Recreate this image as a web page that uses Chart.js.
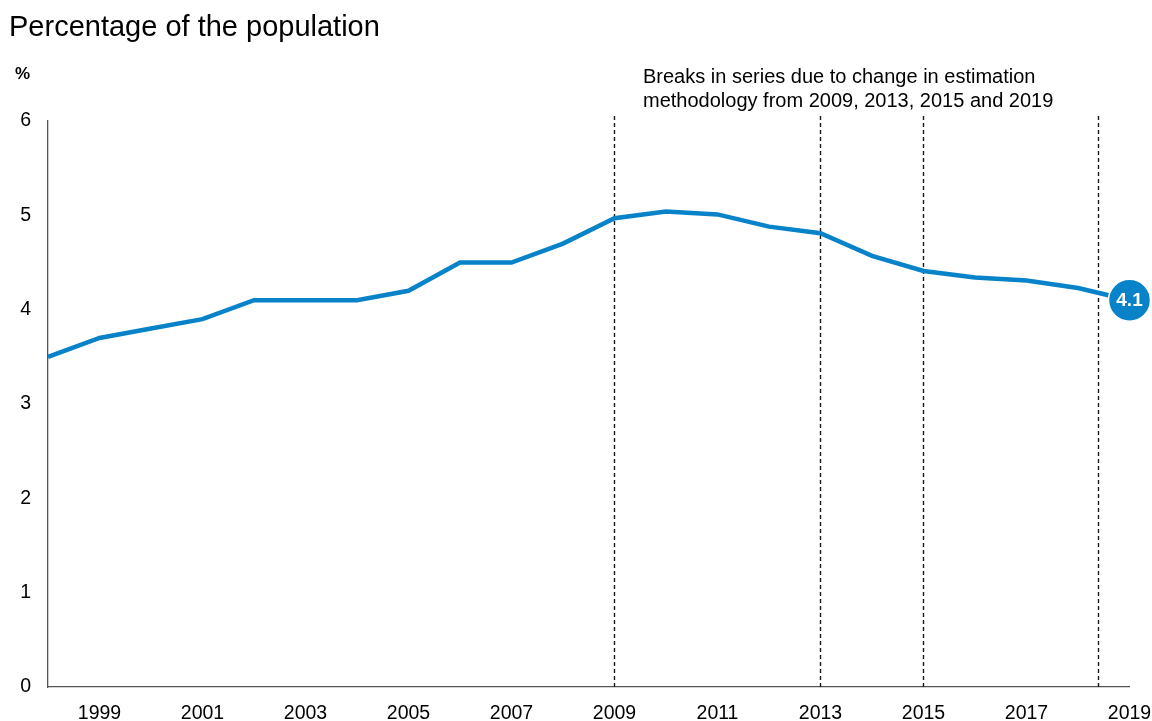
<!DOCTYPE html>
<html>
<head>
<meta charset="utf-8">
<script src="https://cdn.jsdelivr.net/npm/chart.js@4"></script>
<style>
  html, body { margin: 0; padding: 0; background: #fff; }
  #wrap { position: relative; width: 1152px; height: 721px; }
</style>
</head>
<body>
<div id="wrap"><canvas id="chart" width="1152" height="721"></canvas></div>
<script>
const years = [1998, 1999, 2000, 2001, 2002, 2003, 2004, 2005, 2006, 2007, 2008,
  2009, 2010, 2011, 2012, 2013, 2014, 2015, 2016, 2017, 2018, 2019];
const values = [3.5, 3.7, 3.8, 3.9, 4.1, 4.1, 4.1, 4.2, 4.5, 4.5, 4.7,
  4.97, 5.04, 5.01, 4.88, 4.81, 4.57, 4.41, 4.34, 4.31, 4.23, 4.1];
const xTickYears = [1999, 2001, 2003, 2005, 2007, 2009, 2011, 2013, 2015, 2017, 2019];
const yTicks = [0, 1, 2, 3, 4, 5, 6];
const breakYears = [2009, 2013, 2015, 2018.4];

const blue = '#0882c8';
const font = '"Liberation Sans", Arial, sans-serif';

// dashed break lines, the texts and the end label
const extras = {
  id: 'extras',
  beforeDatasetsDraw(chart) {
    const { ctx, chartArea, scales } = chart;
    ctx.save();
    ctx.strokeStyle = '#1a1a1a';
    ctx.lineWidth = 1.4;
    ctx.setLineDash([4, 3]);
    breakYears.forEach(y => {
      const x = Math.round(scales.x.getPixelForValue(y)) - 0.5;
      ctx.beginPath();
      ctx.moveTo(x, chartArea.top - 5);
      ctx.lineTo(x, chartArea.bottom);
      ctx.stroke();
    });
    ctx.restore();
  },
  afterDatasetsDraw(chart) {
    const { ctx } = chart;
    const meta = chart.getDatasetMeta(0);
    const last = meta.data[meta.data.length - 1];
    ctx.save();
    ctx.fillStyle = '#fff';
    ctx.font = 'bold 19px ' + font;
    ctx.textAlign = 'center';
    ctx.textBaseline = 'middle';
    ctx.fillText(values[values.length - 1].toFixed(1), last.x, last.y + 1);

    ctx.fillStyle = '#000';
    ctx.textAlign = 'left';
    ctx.textBaseline = 'alphabetic';
    ctx.font = '29px ' + font;
    ctx.fillText('Percentage of the population', 9, 36);
    ctx.font = 'bold 17px ' + font;
    ctx.fillText('%', 15, 79);
    ctx.font = '20px ' + font;
    ctx.fillText('Breaks in series due to change in estimation', 643, 83);
    ctx.fillText('methodology from 2009, 2013, 2015 and 2019', 643, 107);
    ctx.restore();
  }
};

new Chart(document.getElementById('chart'), {
  type: 'line',
  data: {
    datasets: [{
      data: years.map((y, i) => ({ x: y, y: values[i] })),
      borderColor: blue,
      borderWidth: 4.5,
      tension: 0,
      clip: false,
      pointRadius: ctx => ctx.dataIndex === values.length - 1 ? 21 : 0,
      pointBackgroundColor: blue,
      pointBorderColor: '#fff',
      pointBorderWidth: 1.5,
      pointHoverRadius: ctx => ctx.dataIndex === values.length - 1 ? 21 : 0
    }]
  },
  options: {
    responsive: false,
    animation: false,
    events: [],
    layout: { padding: { top: 121, left: 0, right: 22, bottom: 0 } },
    plugins: { legend: { display: false }, tooltip: { enabled: false } },
    scales: {
      x: {
        type: 'linear',
        min: 1998,
        max: 2019,
        afterBuildTicks: axis => { axis.ticks = xTickYears.map(v => ({ value: v })); },
        afterFit: axis => {
          axis.height = 34;
          axis.paddingLeft = 0;
          axis.paddingRight = 0;
        },
        grid: { display: false, drawTicks: false },
        border: { display: true, color: '#555', width: 1.3 },
        ticks: {
          autoSkip: false,
          maxRotation: 0,
          padding: 15,
          color: '#000',
          font: { family: font, size: 19.5 },
          callback: v => String(v)
        }
      },
      y: {
        min: 0,
        max: 6,
        afterBuildTicks: axis => { axis.ticks = yTicks.map(v => ({ value: v })); },
        afterFit: axis => {
          axis.width = 48;
          axis.paddingTop = 0;
          axis.paddingBottom = 0;
        },
        grid: { display: false, drawTicks: false },
        border: { display: true, color: '#555', width: 1.3 },
        ticks: {
          padding: 17,
          color: '#000',
          font: { family: font, size: 19.5 }
        }
      }
    }
  },
  plugins: [extras]
});
</script>
</body>
</html>
